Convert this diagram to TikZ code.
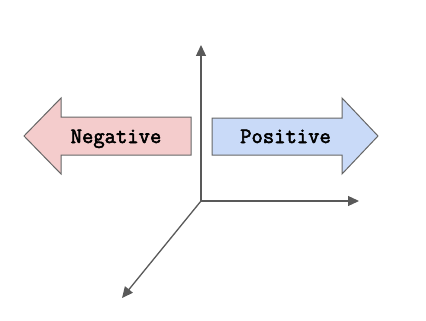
\documentclass[tikz,border=0pt]{standalone}
\usepackage{fontspec}
\newfontfamily\lblfont[FakeBold=2.5]{Latin Modern Mono}
\usetikzlibrary{arrows.meta}
\definecolor{negfill}{HTML}{F4CCCC}
\definecolor{posfill}{HTML}{C9DAF8}
\definecolor{edge}{HTML}{666666}
\definecolor{axis}{HTML}{595959}
\tikzset{
  bigarrow/.style={draw=edge, line width=1pt, line join=miter},
  axisline/.style={draw=axis, line width=1.3pt, -{Triangle[length=11pt,width=10pt]}},
  lbl/.style={font=\fontsize{22}{22}\selectfont\lblfont, inner sep=0pt, anchor=base}
}
\begin{document}
\begin{tikzpicture}[x=1pt,y=-1pt]
\useasboundingbox (0,0) rectangle (426,321);
% Negative arrow
\path[bigarrow, fill=negfill] (191,117) -- (61,117) -- (61,98) -- (24,136) -- (61,174) -- (61,155) -- (191,155) -- cycle;
\node[lbl] (neg) at (116,143) {Negative};
% Positive arrow
\path[bigarrow, fill=posfill] (212,118) -- (342,118) -- (342,98) -- (378,136) -- (342,174) -- (342,155) -- (212,155) -- cycle;
\node[lbl] (pos) at (285.5,143) {Positive};
% axes
\coordinate (o) at (201,201);
\coordinate (up) at (201,45);
\coordinate (rt) at (359,201);
\coordinate (dl) at (122,298);
\draw[axisline] (o) -- (up);
\draw[axisline] (o) -- (rt);
\draw[axisline] (o) -- (dl);
\end{tikzpicture}
\end{document}
